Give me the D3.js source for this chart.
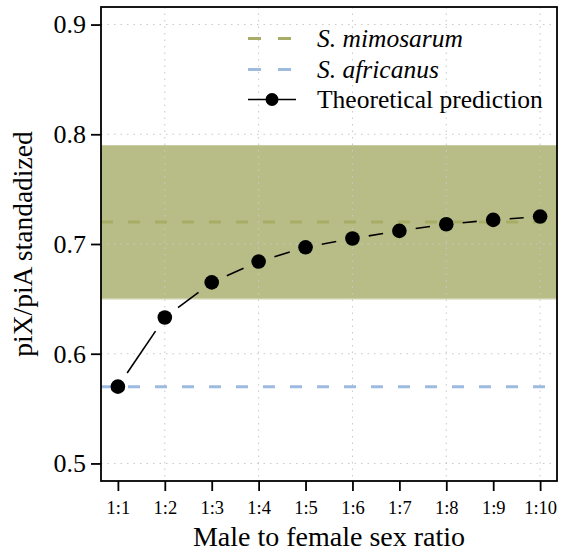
<!DOCTYPE html>
<html>
<head>
<meta charset="utf-8">
<script src="https://cdn.jsdelivr.net/npm/d3@7"></script>
<style>
  body { margin: 0; background: #fff; }
  text { font-family: "Liberation Serif", "Times New Roman", serif; fill: #000; }
</style>
</head>
<body>
<svg id="chart" width="563" height="551"></svg>
<script>
// data
var ratios = ["1:1", "1:2", "1:3", "1:4", "1:5", "1:6", "1:7", "1:8", "1:9", "1:10"];
var prediction = [0.570, 0.633, 0.665, 0.684, 0.697, 0.705, 0.712, 0.718, 0.722, 0.725];
var mimosarumMean = 0.72;
var mimosarumBand = [0.65, 0.79];
var africanusMean = 0.57;
var yTicks = [0.5, 0.6, 0.7, 0.8, 0.9];
var legendLabels = ["S. mimosarum", "S. africanus", "Theoretical prediction"];

var svg = d3.select("#chart");

var margin = {left: 101, right: 6, top: 7, bottom: 70};
var width = 563 - margin.left - margin.right;
var height = 551 - margin.top - margin.bottom;

var g = svg.append("g")
    .attr("transform", "translate(" + margin.left + "," + margin.top + ")");

// R style 4% padding on both axes
var x = d3.scaleLinear().domain([0.64, 10.36]).range([0, width]);
var y = d3.scaleLinear().domain([0.484, 0.916]).range([height, 0]);

var greenLine = "#a7ad66";
var greenBand = "#b8bd87";
var blueLine = "#9dbbdf";

// band
g.append("rect")
    .attr("x", 0)
    .attr("width", width)
    .attr("y", y(mimosarumBand[1]))
    .attr("height", y(mimosarumBand[0]) - y(mimosarumBand[1]))
    .attr("fill", greenBand);
g.append("line")
    .attr("x1", 0).attr("x2", width)
    .attr("y1", y(mimosarumBand[0])).attr("y2", y(mimosarumBand[0]))
    .attr("stroke", "#cdd0ab").attr("stroke-width", 1.5);

// grid
g.selectAll(".hgrid")
    .data(yTicks)
    .enter().append("line")
    .attr("x1", 0).attr("x2", width)
    .attr("y1", function (d) { return y(d); })
    .attr("y2", function (d) { return y(d); })
    .attr("stroke", "#c8c8c8")
    .attr("stroke-width", 1)
    .attr("stroke-dasharray", "1.5,5");

g.selectAll(".vgrid")
    .data(ratios.filter(function (d, i) { return i % 2 === 1; }))
    .enter().append("line")
    .attr("x1", function (d) { return x(ratios.indexOf(d) + 1); })
    .attr("x2", function (d) { return x(ratios.indexOf(d) + 1); })
    .attr("y1", 0).attr("y2", height)
    .attr("stroke", "#c8c8c8")
    .attr("stroke-width", 1)
    .attr("stroke-dasharray", "1.5,5");

// reference lines
g.append("line")
    .attr("x1", 0).attr("x2", width)
    .attr("y1", y(mimosarumMean)).attr("y2", y(mimosarumMean))
    .attr("stroke", greenLine).attr("stroke-width", 3)
    .attr("stroke-dasharray", "12,15");

g.append("line")
    .attr("x1", 0).attr("x2", width)
    .attr("y1", y(africanusMean)).attr("y2", y(africanusMean))
    .attr("stroke", blueLine).attr("stroke-width", 3)
    .attr("stroke-dasharray", "12,15");

// prediction: line segments with gaps around points (type = "b")
var gap = 16.5;
var pts = prediction.map(function (v, i) { return [x(i + 1), y(v)]; });
for (var i = 0; i < pts.length - 1; i++) {
    var dx = pts[i + 1][0] - pts[i][0];
    var dy = pts[i + 1][1] - pts[i][1];
    var len = Math.sqrt(dx * dx + dy * dy);
    if (len > 2 * gap) {
        var ux = dx / len, uy = dy / len;
        g.append("line")
            .attr("x1", pts[i][0] + ux * gap).attr("y1", pts[i][1] + uy * gap)
            .attr("x2", pts[i + 1][0] - ux * gap).attr("y2", pts[i + 1][1] - uy * gap)
            .attr("stroke", "#000").attr("stroke-width", 1.6);
    }
}

g.selectAll(".pt")
    .data(prediction)
    .enter().append("circle")
    .attr("cx", function (d, i) { return x(i + 1); })
    .attr("cy", function (d) { return y(d); })
    .attr("r", 7.3)
    .attr("fill", "#000");

// frame
g.append("rect")
    .attr("width", width).attr("height", height)
    .attr("fill", "none").attr("stroke", "#000").attr("stroke-width", 1.8);

// axes
var xAxis = d3.axisBottom(x)
    .tickValues(d3.range(1, 11))
    .tickFormat(function (d) { return ratios[d - 1]; })
    .tickSize(10);
var gx = g.append("g").attr("transform", "translate(0," + height + ")").call(xAxis);
gx.select(".domain").remove();
gx.selectAll("line").attr("stroke-width", 1.8);
gx.selectAll("text")
    .attr("y", 33).attr("dy", null)
    .attr("font-size", 18.5).attr("font-family", "Liberation Serif");

var yAxis = d3.axisLeft(y)
    .tickValues(yTicks)
    .tickFormat(d3.format(".1f"))
    .tickSize(10).tickPadding(5);
var gy = g.append("g").call(yAxis);
gy.select(".domain").remove();
gy.selectAll("line").attr("stroke-width", 1.8);
gy.selectAll("text").attr("font-size", 26).attr("font-family", "Liberation Serif");

// axis titles
svg.append("text")
    .attr("x", margin.left + width / 2)
    .attr("y", 546)
    .attr("text-anchor", "middle")
    .attr("font-size", 28)
    .text("Male to female sex ratio");

svg.append("text")
    .attr("transform", "translate(32," + (margin.top + height / 2) + ") rotate(-90)")
    .attr("text-anchor", "middle")
    .attr("font-size", 27.5)
    .text("piX/piA standadized");

// legend
var legend = svg.append("g");
var rowY = [38.5, 69.5, 99.5];
legendLabels.forEach(function (lab, i) {
    var ly = rowY[i];
    if (i < 2) {
        legend.append("line")
            .attr("x1", 248).attr("x2", 291)
            .attr("y1", ly).attr("y2", ly)
            .attr("stroke", i === 0 ? greenLine : blueLine)
            .attr("stroke-width", 3)
            .attr("stroke-dasharray", "13,17");
    } else {
        legend.append("line")
            .attr("x1", 248).attr("x2", 296)
            .attr("y1", ly).attr("y2", ly)
            .attr("stroke", "#000").attr("stroke-width", 1.6);
        legend.append("circle")
            .attr("cx", 272).attr("cy", ly).attr("r", 6.5).attr("fill", "#000");
    }
    legend.append("text")
        .attr("x", 317)
        .attr("y", ly + 8.5)
        .attr("font-size", 25.5)
        .attr("font-style", i < 2 ? "italic" : "normal")
        .text(lab);
});
</script>
</body>
</html>
